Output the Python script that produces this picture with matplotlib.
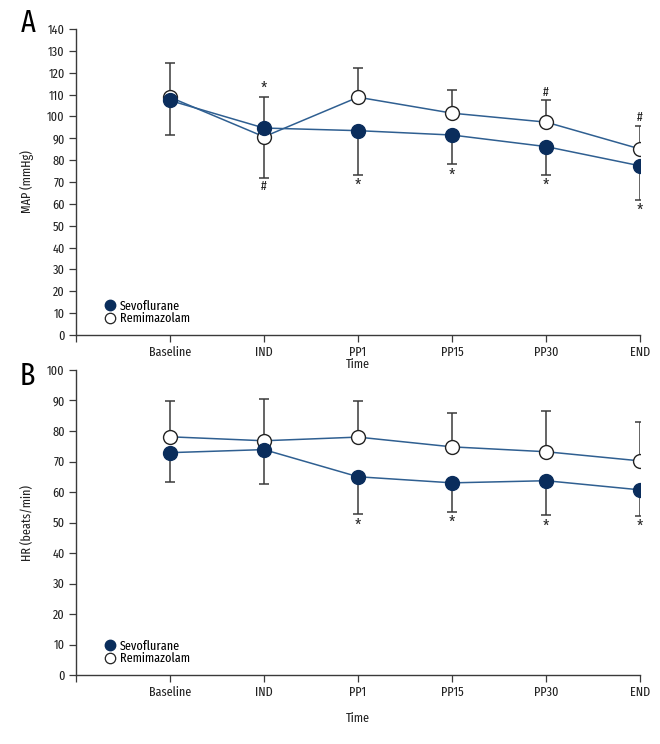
import matplotlib
matplotlib.use("Agg")
import numpy as np
from matplotlib import pyplot as plt
from matplotlib.lines import Line2D

plt.rcParams['font.family'] = ['Fira Sans Extra Condensed', 'DejaVu Sans']
plt.rcParams['font.stretch'] = 'condensed'

# time points (x position 0 is the empty start of the axis)
times = ['Baseline', 'IND', 'PP1', 'PP15', 'PP30', 'END']

# MAP (mmHg): means and the end of the drawn error bar
map_sevo = [107.3, 94.7, 93.5, 91.5, 86.2, 77.4]
map_sevo_err = [91.3, 109.1, 73.4, 78.3, 73.3, 61.9]
map_remi = [108.8, 90.7, 108.8, 101.5, 97.4, 85.1]
map_remi_err = [124.4, 72.0, 122.2, 111.9, 107.3, 95.8]
# significance marks: (time index, mark, side of the group's error bar, group)
map_marks = [(1, '*', 'up', 'sevo'), (1, '#', 'down', 'remi'),
             (2, '*', 'down', 'sevo'), (3, '*', 'down', 'sevo'),
             (4, '*', 'down', 'sevo'), (4, '#', 'up', 'remi'),
             (5, '*', 'down', 'sevo'), (5, '#', 'up', 'remi')]

# HR (beats/min)
hr_sevo = [72.9, 73.9, 65.0, 63.0, 63.7, 60.7]
hr_sevo_err = [63.2, 62.5, 52.7, 53.5, 52.4, 52.2]
hr_remi = [78.1, 76.8, 78.0, 74.8, 73.2, 70.2]
hr_remi_err = [89.7, 90.4, 89.7, 86.0, 86.5, 83.0]
hr_marks = [(2, '*', 'down', 'sevo'), (3, '*', 'down', 'sevo'),
            (4, '*', 'down', 'sevo'), (5, '*', 'down', 'sevo')]

NAVY = '#0a2d5c'
LINE = '#2f5f91'
EDGE = '#3a3a3a'
OFFSETS = {('*', 'up'): 5, ('*', 'down'): -8.5, ('#', 'up'): 6, ('#', 'down'): -6.5}
MARK_SIZE = {'*': 12, '#': 9.5}

fig = plt.figure(figsize=(6.6, 7.44), dpi=100)
axA = fig.add_axes([0.115, 0.5497, 0.855, 0.4113])
axB = fig.add_axes([0.115, 0.0927, 0.855, 0.4100])


def draw_panel(ax, sevo, sevo_err, remi, remi_err, marks, ymax, ylabel, time_y):
    x = np.arange(1, len(times) + 1)
    for mean, end in ((sevo, sevo_err), (remi, remi_err)):
        mean = np.array(mean)
        end = np.array(end)
        lo = np.clip(mean - end, 0, None)
        hi = np.clip(end - mean, 0, None)
        ax.errorbar(x, mean, yerr=[lo, hi], fmt='none', ecolor=EDGE,
                    elinewidth=1.1, capsize=3.5, capthick=1.1, zorder=1)
    ax.plot(x, remi, color=LINE, lw=1.1, zorder=2)
    ax.plot(x, sevo, color=LINE, lw=1.1, zorder=2)
    ax.plot(x, remi, 'o', ms=10, mfc='white', mec='#222222', mew=1.0,
            zorder=3, ls='none')
    ax.plot(x, sevo, 'o', ms=10, mfc=NAVY, mec=NAVY, zorder=4, ls='none')

    for i, mark, side, grp in marks:
        end = sevo_err[i] if grp == 'sevo' else remi_err[i]
        ax.annotate(mark, (x[i], end), xytext=(0, OFFSETS[(mark, side)]),
                    textcoords='offset points', ha='center', va='center',
                    fontsize=MARK_SIZE[mark], color='#222222')

    ax.set_xlim(0, len(times))
    ax.set_ylim(0, ymax)
    ax.set_xticks(np.arange(0, len(times) + 1))
    ax.set_xticklabels([''] + times)
    ax.set_yticks(np.arange(0, ymax + 1, 10))
    for s in ('top', 'right'):
        ax.spines[s].set_visible(False)
    for s in ('left', 'bottom'):
        ax.spines[s].set_color(EDGE)
        ax.spines[s].set_linewidth(1.0)
    ax.tick_params(direction='out', length=5, width=0.9, color=EDGE,
                   labelsize=9.5, labelcolor='#222222', pad=3)
    ax.set_ylabel(ylabel, fontsize=9.5, color='#222222')
    ax.yaxis.set_label_coords(-0.075, 0.5)
    ax.set_xlabel('Time', fontsize=9.5, color='#222222')
    ax.xaxis.set_label_coords(0.5, time_y)

    handles = [Line2D([], [], marker='o', ls='none', ms=7.5, mfc=NAVY, mec=NAVY),
               Line2D([], [], marker='o', ls='none', ms=7.5, mfc='white',
                      mec='#222222', mew=0.9)]
    ax.legend(handles, ['Sevoflurane', 'Remimazolam'], loc='lower left',
              bbox_to_anchor=(0.048, 0.033), frameon=False, fontsize=9.5,
              borderpad=0, borderaxespad=0, handlelength=1.0,
              handletextpad=0.3, labelspacing=0.02)


draw_panel(axA, map_sevo, map_sevo_err, map_remi, map_remi_err, map_marks,
           140, 'MAP (mmHg)', -0.075)
draw_panel(axB, hr_sevo, hr_sevo_err, hr_remi, hr_remi_err, hr_marks,
           100, 'HR (beats/min)', -0.12)

fig.text(0.042, 0.969, 'A', fontsize=22, ha='center', va='center')
fig.text(0.042, 0.494, 'B', fontsize=22, ha='center', va='center')

fig.savefig('out.png', dpi=100)
